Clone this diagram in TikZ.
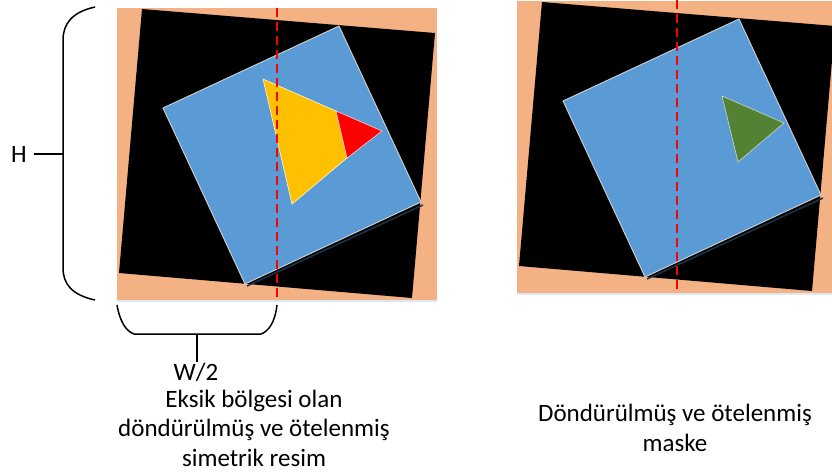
\documentclass[tikz,border=0pt]{standalone}
\usepackage{fontspec}
\setmainfont{Carlito}
\definecolor{zemin}{HTML}{F4B183}
\definecolor{kare}{HTML}{5B9BD5}
\definecolor{sari}{HTML}{FFC000}
\definecolor{yesil}{HTML}{548235}
\definecolor{golge}{HTML}{DAE8F6}
\definecolor{koyu}{HTML}{1F3347}
\begin{document}
\begin{tikzpicture}[x=1pt,y=-1pt,
    kenar/.style={draw=gray!35, line width=0.9pt},
    eksen/.style={red, line width=2.2pt, dash pattern=on 9pt off 5pt},
    parantez/.style={black, line width=1.5pt},
    yazi/.style={font=\fontsize{25}{29.5}\selectfont, align=center, inner sep=1pt}]
\useasboundingbox (0,0) rectangle (832,475);
\begin{scope}
\clip (0,0) rectangle (832,475);
% sol resim ve sag maske
\foreach \dx/\dy in {0/0, 400/-7} {
  \begin{scope}[shift={(\dx,\dy)}]
    \fill[zemin] (117,8) rectangle (437,300);
    \draw[golge, line width=2pt] (117,301) -- (437,301);
    \fill[black] (142,9) -- (435,33) -- (412,298) -- (119,273) -- cycle;
    \draw[koyu, line width=1.5pt] (247,286) -- (423,205);
    \filldraw[fill=kare, kenar] (163,108) -- (339,26) -- (421,202) -- (245,284) -- cycle;
  \end{scope}
}
\filldraw[fill=sari, draw=white!85!sari, line width=0.6pt] (263,79) -- (336,111) -- (347,158) -- (292,204) -- cycle;
\filldraw[fill=red, draw=white!80!red, line width=0.6pt] (336,111) -- (382,131) -- (347,158) -- cycle;
\filldraw[fill=yesil, draw=white!70!yesil, line width=0.6pt] (722,96) -- (784,123) -- (738,162) -- cycle;
\draw[eksen] (277,8) -- (277,300);
\draw[eksen] (677,0) -- (677,293);
\end{scope}
% H parantezi
\draw[parantez] (95,7) .. controls (72,12) and (63,24) .. (63,40) -- (63,268)
  .. controls (63,284) and (72,295) .. (95,300);
\node[yazi, inner xsep=7pt] (hyazi) at (19,154) {H};
\coordinate (hucu) at (63,154);
\draw[parantez] (hucu) -- (hyazi.east);
% W/2 parantezi
\draw[parantez] (117,305) .. controls (120,322) and (126,331) .. (134,334) -- (261,334)
  .. controls (269,331) and (275,322) .. (277,305);
\node[yazi] (wyazi) at (196,372) {W/2};
\coordinate (wucu) at (197,334);
\draw[parantez] (wucu) -- (wyazi.north -| wucu);
% aciklamalar
\node[yazi] (solyazi) at (254,428) {Eksik bölgesi olan\\döndürülmüş ve ötelenmiş\\simetrik resim};
\node[yazi] (sagyazi) at (675,428) {Döndürülmüş ve ötelenmiş\\maske};
\end{tikzpicture}
\end{document}
